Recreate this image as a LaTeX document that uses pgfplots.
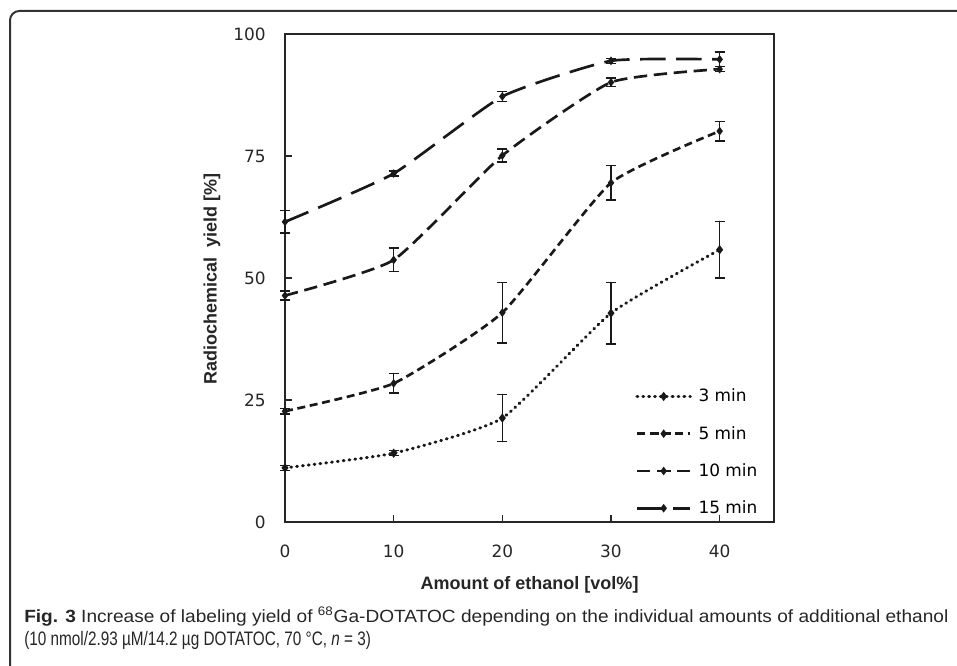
\documentclass[border=0pt]{standalone}
\usepackage{pgfplots}
\pgfplotsset{compat=1.18}
\usepackage{fontspec}
\setmainfont{DejaVu Sans}
\newfontfamily\labfont{Liberation Sans}
\newfontfamily\capfont{Liberation Sans}

\pgfplotstableread{
x y e
0 11.1 0.5
10 14.1 0.5
20 21.3 4.8
30 42.8 6.3
40 55.8 5.8
}\tthree
\pgfplotstableread{
x y e
0 22.7 0.6
10 28.4 2.0
20 42.9 6.2
30 69.5 3.5
40 80.1 2.0
}\tfive
\pgfplotstableread{
x y e
0 46.4 0.9
10 53.7 2.4
20 75.1 1.3
30 90.1 0.9
40 92.8 0.5
}\tten
\pgfplotstableread{
x y e
0 61.5 2.3
10 71.4 0.5
20 87.2 1.0
30 94.5 0.5
40 94.8 1.5
}\tfifteen

\begin{document}
\begin{tikzpicture}[x=0.75pt,y=0.75pt]
\useasboundingbox (0,0) rectangle (957,665);
\draw[line width=1.5pt, color=black!80, rounded corners=7pt] (962,654) -- (10,654) -- (10,-8);
\begin{axis}[
  at={(213.75pt,107.25pt)}, anchor=south west, scale only axis,
  width=366.75pt, height=366pt,
  xmin=0, xmax=45, ymin=0, ymax=100,
  xtick={0,10,20,30,40}, ytick={0,25,50,75,100},
  tick align=inside, xtick pos=bottom, ytick pos=left,
  major tick length=5.25pt,
  axis line style={line width=1.1pt, black!85},
  tick style={line width=1.1pt, black!85},
  tick label style={font=\fontsize{12.7}{15}\selectfont, text=black!85},
  /pgf/number format/assume math mode=true,
  xticklabel style={yshift=-14pt},
  yticklabel style={xshift=-11pt},
  clip=false,
  legend style={draw=none, fill=none, at={(axis description cs:0.708,0.284)}, anchor=north west,
    font=\fontsize{12.7}{15}\selectfont, row sep=12.8pt, legend cell align=left,
    nodes={inner xsep=5pt}},
  legend image code/.code={\draw[mark repeat=2,mark phase=2,#1] plot coordinates {(0pt,0pt) (20pt,0pt) (40pt,0pt)};},
  cycle list={{black!90}},
  every axis plot/.append style={black!90, line width=2pt, smooth, tension=0.3,
    mark=diamond*, mark size=1.6pt, mark options={solid, fill=black},
    error bars/error bar style={line width=1.1pt, solid, black!90},
    error bars/error mark options={line width=1.1pt, mark size=3.75pt, rotate=90, black!90}},
]
\addplot[line width=2.3pt, dash pattern=on 0.6pt off 3.8pt, line cap=round,
  error bars/.cd, y dir=both, y explicit] table[x=x, y=y, y error=e] {\tthree};
\addlegendentry{3 min}
\addplot[dash pattern=on 6pt off 3.5pt,
  error bars/.cd, y dir=both, y explicit] table[x=x, y=y, y error=e] {\tfive};
\addlegendentry{5 min}
\addplot[dash pattern=on 10pt off 5pt,
  error bars/.cd, y dir=both, y explicit] table[x=x, y=y, y error=e] {\tten};
\addlegendentry{10 min}
\addplot[dash pattern=on 19pt off 8pt,
  error bars/.cd, y dir=both, y explicit] table[x=x, y=y, y error=e] {\tfifteen};
\addlegendentry{15 min}
\end{axis}
\node[rotate=90, font=\labfont\bfseries\fontsize{13.5}{16}\selectfont, text=black!85] at (212,386) {Radiochemical\ \ yield [\%]};
\node[font=\labfont\bfseries\fontsize{13.5}{16}\selectfont, text=black!85] at (529.5,80) {Amount of ethanol [vol\%]};
\node[anchor=base west, inner sep=0pt, text=black!85] at (24,43) {\resizebox{693pt}{9.6pt}{\capfont\textbf{Fig. 3} Increase of labeling yield of \smash{\textsuperscript{68}}Ga-DOTATOC depending on the individual amounts of additional ethanol}};
\node[anchor=base west, inner sep=0pt, text=black!85] at (24,20) {\resizebox{260pt}{10.6pt}{\capfont (10 nmol/2.93 µM/14.2 µg DOTATOC, 70 °C, \textit{n} = 3)}};
\end{tikzpicture}
\end{document}
